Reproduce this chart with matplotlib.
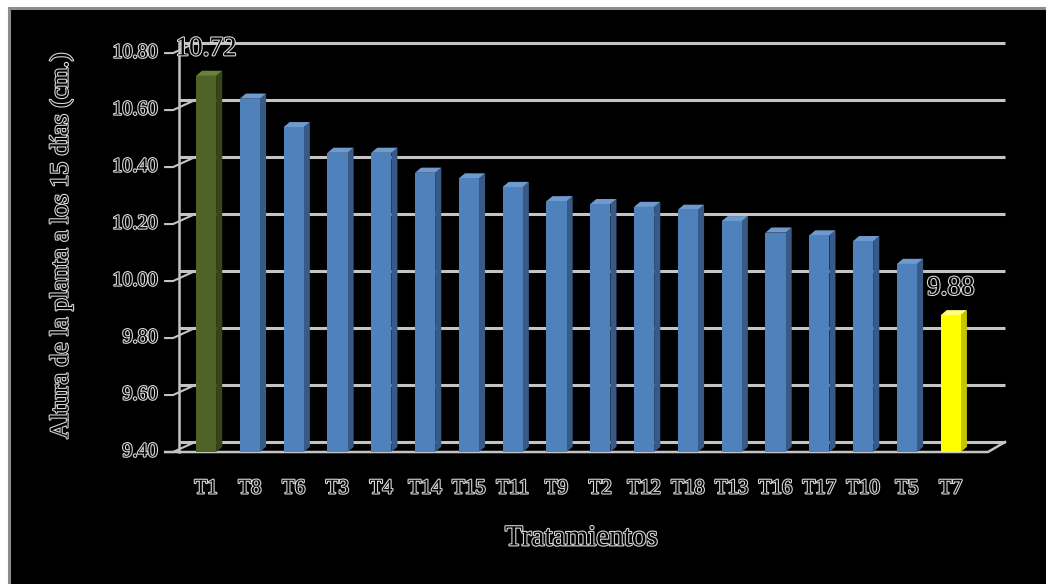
import matplotlib
matplotlib.use("Agg")
from matplotlib import pyplot as plt
from matplotlib.patches import Polygon, Rectangle
import matplotlib.patheffects as pe

treatments = ['T1', 'T8', 'T6', 'T3', 'T4', 'T14', 'T15', 'T11', 'T9', 'T2',
              'T12', 'T18', 'T13', 'T16', 'T17', 'T10', 'T5', 'T7']
heights = [10.72, 10.64, 10.54, 10.45, 10.45, 10.38, 10.36, 10.33, 10.28, 10.27,
           10.26, 10.25, 10.21, 10.17, 10.16, 10.14, 10.06, 9.88]
yticks = [9.40, 9.60, 9.80, 10.00, 10.20, 10.40, 10.60, 10.80]
labelled = [0, 17]

ymin, ymax = 9.40, 10.80
# 3d look: depth offsets in data units
dy = 0.035
bw, bdx, bdy = 0.46, 0.14, 0.018

front = {'green': '#4f6228', 'blue': '#4f81bd', 'yellow': '#ffff00'}
side = {'green': '#37451b', 'blue': '#375a86', 'yellow': '#c4c400'}
top = {'green': '#6b8339', 'blue': '#6f9ad0', 'yellow': '#ffff7a'}
kinds = ['green'] + ['blue'] * 16 + ['yellow']

outline = [pe.withStroke(linewidth=1.6, foreground='#d8d8d8')]
serif = 'Liberation Serif'

fig = plt.figure(figsize=(10.46, 5.84), dpi=100, facecolor='white')
fig.patches.append(Rectangle((8.5 / 1046, -0.1), 1.2, (584 - 8.5) / 584 + 0.1,
                             transform=fig.transFigure, facecolor='black',
                             edgecolor='#8c8c8c', lw=2.2, zorder=-10))

ax = fig.add_axes([150 / 1046, 124 / 584, 880 / 1046, 430 / 584])
ax.set_zorder(5)
ax.set_facecolor('none')
ax.set_xlim(-1.279, 18.81)
ax.set_ylim(9.372, 10.881)
for s in ax.spines.values():
    s.set_visible(False)

grid_c = '#c4c4c4'
xl_front, xl_v, xl_back = -0.753, -0.616, -0.251
xr_front, xr_back = 17.85, 18.24

# back wall gridlines and left wall ticks
for t in yticks:
    ax.plot([xl_v, xr_back], [t + dy, t + dy], color=grid_c, lw=2.2, zorder=1,
            solid_capstyle='butt')
    ax.plot([xl_front - 0.18, xl_front, xl_back], [t, t, t + dy], color=grid_c,
            lw=1.5, zorder=1)
    ax.text(xl_front - 0.35, t, '%.2f' % t, ha='right', va='center',
            fontsize=14.5, family=serif, color='black', path_effects=outline)
ax.plot([xl_v, xl_v], [ymin, ymax + dy], color=grid_c, lw=1.8, zorder=1)
# floor front edge
ax.plot([xl_front - 0.18, xr_front, xr_back], [ymin, ymin, ymin + dy],
        color=grid_c, lw=1.8, zorder=1)

# bars
for i, (v, k) in enumerate(zip(heights, kinds)):
    x0, x1 = i - bw / 2, i + bw / 2
    ax.add_patch(Polygon([(x1, ymin), (x1 + bdx, ymin + bdy), (x1 + bdx, v + bdy), (x1, v)],
                         closed=True, facecolor=side[k], edgecolor='none', zorder=3))
    ax.add_patch(Polygon([(x0, v), (x0 + bdx, v + bdy), (x1 + bdx, v + bdy), (x1, v)],
                         closed=True, facecolor=top[k], edgecolor='none', zorder=3))
    ax.add_patch(Rectangle((x0, ymin), bw, v - ymin, facecolor=front[k],
                           edgecolor='none', zorder=3))

for i in labelled:
    ax.text(i, heights[i] + 0.095, '%.2f' % heights[i], ha='center', va='center',
            fontsize=19.5, family=serif, color='black', path_effects=outline, zorder=5)

ax.set_yticks([])
ax.set_xticks(range(len(treatments)))
ax.set_xticklabels(treatments, fontsize=15, family=serif, color='black')
for lab in ax.get_xticklabels():
    lab.set_path_effects(outline)
ax.tick_params(axis='x', length=0, pad=14)

ax.set_ylabel('Altura de la planta a los 15 días (cm.)', fontsize=18.5, family=serif,
              color='black', path_effects=outline)
ax.yaxis.set_label_coords(-0.0875, 0.5)
ax.set_xlabel('Tratamientos', fontsize=21, family=serif, color='black',
              path_effects=outline)
ax.xaxis.set_label_coords(0.49, -0.152)

fig.savefig('out.png', dpi=100, facecolor=fig.get_facecolor())
